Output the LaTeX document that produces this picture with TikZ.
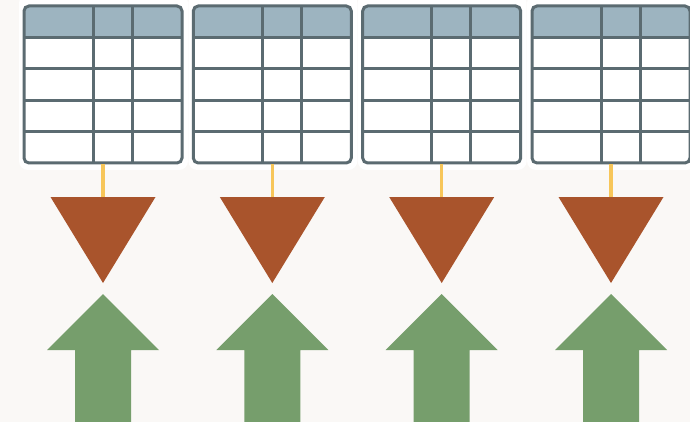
\documentclass[tikz,border=0pt]{standalone}
\usepackage{tikz}
\usetikzlibrary{shapes}
\definecolor{paper}{HTML}{FAF8F6}
\definecolor{gridline}{HTML}{5B6B71}
\definecolor{headfill}{HTML}{9DB4C0}
\definecolor{feedline}{HTML}{F7C65A}
\definecolor{reducefill}{HTML}{A9542C}
\definecolor{upfill}{HTML}{769E6C}
\tikzset{
  tablebox/.style={draw=gridline, line width=3pt, rounded corners=5pt, inner sep=0pt,
    outer sep=0pt, minimum width=158pt, minimum height=157pt, anchor=north west},
  grid/.style={draw=gridline, line width=3pt},
  feed/.style={draw=feedline, line width=3.5pt, shorten <=1.5pt}
}
% table with header row and four body rows, left edge at #1
\newcommand{\datatable}[2] {
  \fill[white, rounded corners=9pt] (#1-5,-6) rectangle (#1+164,170);
  \fill[headfill, rounded corners=5pt] (#1,6) rectangle (#1+158,38);
  \foreach \cx in {69,108} \draw[grid] (#1+\cx,6) -- (#1+\cx,163);
  \foreach \ry in {38,69,100.5,132} \draw[grid] (#1,\ry) -- (#1+158,\ry);
  \node[tablebox] (#2) at (#1,6) {};
}
\newcommand{\reducer}[2] {\coordinate (#2) at (#1,197);
  \fill[reducefill] (#1-52.5,197) -- (#1+52.5,197) -- (#1,283) -- cycle;}
\newcommand{\upblock}[2] {\coordinate (#2) at (#1,294);
  \fill[upfill] (#1,294) -- (#1+56,350) -- (#1+28,350) -- (#1+28,423)
    -- (#1-28,423) -- (#1-28,350) -- (#1-56,350) -- cycle;}
\newcommand{\feed}[2] {\draw[feed] (#1.south) -- (#2);}

\begin{document}
\begin{tikzpicture}[x=1pt, y=-1pt]
\fill[paper] (0,0) rectangle (690,422);
\useasboundingbox (0,0) rectangle (690,422);

\datatable {24} {tab1};
\datatable {193.3} {tab2};
\datatable {362.7} {tab3};
\datatable {532} {tab4};

\reducer {103} {red1};
\reducer {272.3} {red2};
\reducer {441.7} {red3};
\reducer {611} {red4};

\upblock {103} {up1};
\upblock {272.3} {up2};
\upblock {441.7} {up3};
\upblock {611} {up4};

\feed{tab1}{red1};
\feed{tab2}{red2};
\feed{tab3}{red3};
\feed{tab4}{red4};

\end{tikzpicture}
\end{document}
